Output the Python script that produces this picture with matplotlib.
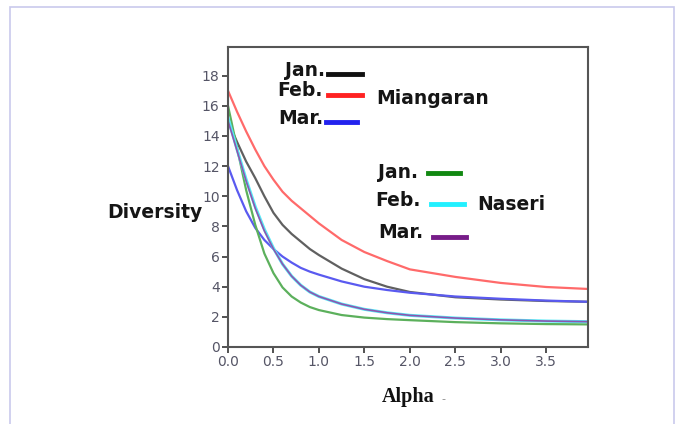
import matplotlib.pyplot as plt
from matplotlib.patches import Rectangle

# diversity profiles (alpha vs diversity)
alpha = [0.0, 0.1, 0.2, 0.3, 0.4, 0.5, 0.6, 0.7, 0.8, 0.9, 1.0, 1.25, 1.5, 1.75, 2.0, 2.5, 3.0, 3.5, 3.96]

mia_jan = [15.0, 13.6, 12.3, 11.2, 10.0, 8.9, 8.1, 7.5, 7.0, 6.5, 6.1, 5.2, 4.5, 4.0, 3.65, 3.3, 3.15, 3.05, 3.0]
mia_feb = [17.0, 15.6, 14.3, 13.1, 12.0, 11.1, 10.3, 9.7, 9.2, 8.7, 8.2, 7.1, 6.3, 5.7, 5.15, 4.65, 4.25, 3.98, 3.85]
mia_mar = [12.0, 10.4, 9.0, 7.9, 7.1, 6.5, 6.0, 5.6, 5.25, 5.0, 4.8, 4.35, 4.0, 3.78, 3.6, 3.35, 3.2, 3.08, 3.0]

nas_jan = [16.0, 13.2, 10.4, 8.1, 6.2, 4.9, 3.95, 3.35, 2.95, 2.65, 2.45, 2.12, 1.95, 1.85, 1.78, 1.65, 1.57, 1.52, 1.5]
nas_feb = [15.2, 13.1, 11.1, 9.3, 7.8, 6.55, 5.5, 4.7, 4.1, 3.65, 3.35, 2.85, 2.5, 2.27, 2.1, 1.92, 1.8, 1.72, 1.68]
nas_mar = [15.0, 13.0, 11.0, 9.2, 7.7, 6.5, 5.5, 4.7, 4.1, 3.65, 3.35, 2.85, 2.5, 2.27, 2.1, 1.92, 1.8, 1.72, 1.68]

yticks = [0, 2, 4, 6, 8, 10, 12, 14, 16, 18]
xticks = [0.0, 0.5, 1.0, 1.5, 2.0, 2.5, 3.0, 3.5]

fig = plt.figure(figsize=(6.77, 4.24), dpi=100)
fig.patches.append(Rectangle((10 / 677, -0.05), 664 / 677, 1 - 7 / 424 + 0.05,
                             transform=fig.transFigure, fill=False,
                             edgecolor='#c9c9ec', linewidth=1.2))

ax = fig.add_axes([228 / 677, 77 / 424, 360 / 677, 300 / 424])

ax.plot(alpha, mia_feb, color='#ff6a6a', lw=1.6)
ax.plot(alpha, mia_jan, color='#606060', lw=1.6)
ax.plot(alpha, mia_mar, color='#5a5af0', lw=1.6)
ax.plot(alpha, nas_jan, color='#5cb05c', lw=1.6)
ax.plot(alpha, nas_feb, color='#55e8f5', lw=2.2)
ax.plot(alpha, nas_mar, color='#8e55b0', lw=1.2)

ax.set_xlim(0, 3.96)
ax.set_ylim(0, 19.9)
ax.set_xticks(xticks)
ax.set_xticklabels(['%.1f' % t for t in xticks])
ax.set_yticks(yticks)
ax.tick_params(direction='out', length=4, width=1.2, color='#333333',
               labelsize=10, labelcolor='#555566', pad=2)
for t in ax.get_xticklabels() + ax.get_yticklabels():
    t.set_family('Liberation Sans Narrow')
for s in ax.spines.values():
    s.set_color('#555555')
    s.set_linewidth(1.5)

# legend drawn by hand in pixel coordinates
def px(x, y):
    return x / 677, 1 - y / 424

lab = dict(fontsize=13.5, fontweight='bold', family='DejaVu Sans', color='#151515',
           transform=fig.transFigure, va='center')
fig.text(*px(325, 71), 'Jan.', ha='right', **lab)
fig.text(*px(323, 91), 'Feb.', ha='right', **lab)
fig.text(*px(323, 119), 'Mar.', ha='right', **lab)
fig.text(*px(376, 99), 'Miangaran', ha='left', **lab)
fig.text(*px(378, 172), 'Jan.', ha='left', **lab)
fig.text(*px(375, 200), 'Feb.', ha='left', **lab)
fig.text(*px(378, 233), 'Mar.', ha='left', **lab)
fig.text(*px(477, 204), 'Naseri', ha='left', **lab)

keys = [(328, 362, 74, '#111111'), (328, 362, 95, '#ff2222'),
        (326, 357, 122, '#2222ee'), (428, 460, 173, '#118811'),
        (431, 464, 204, '#22f0ff'), (433, 466, 237, '#771c88')]
for x0, x1, y, c in keys:
    fig.add_artist(plt.Line2D([x0 / 677, x1 / 677], [1 - y / 424] * 2,
                              color=c, lw=3.5, transform=fig.transFigure))

fig.text(*px(107, 213), 'Diversity', ha='left', **lab)
fig.text(*px(408, 397), 'Alpha', ha='center', va='center', fontsize=14.5,
         fontweight='bold', family='Liberation Serif', color='#111111')
fig.text(*px(443, 399), '-', ha='center', va='center', fontsize=8,
         color='#888888')

fig.savefig('out.png', dpi=100)
